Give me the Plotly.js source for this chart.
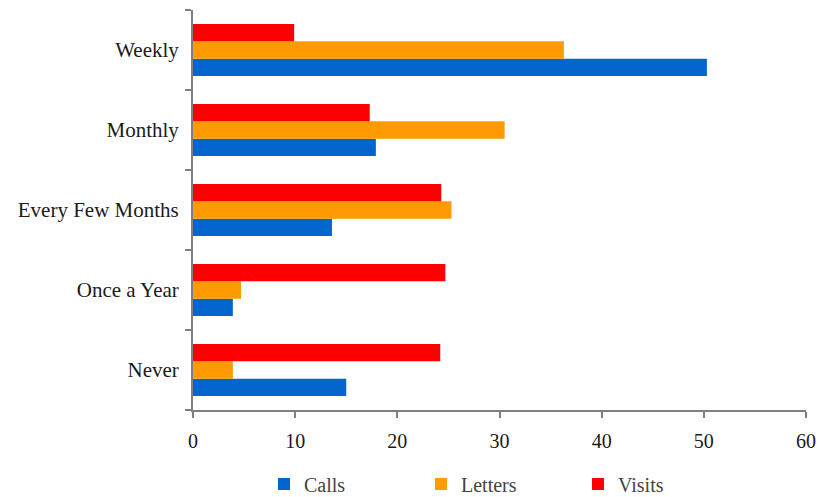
<!DOCTYPE html>
<html>
<head>
<meta charset="utf-8">
<script src="https://cdn.plot.ly/plotly-3.0.1.min.js"></script>
<style>html,body{margin:0;padding:0;background:#fff;}#chart{width:820px;height:497px;}</style>
</head>
<body>
<div id="chart"></div>
<script>
// categories listed bottom-to-top
const categories = ["Never", "Once a Year", "Every Few Months", "Monthly", "Weekly"];
const calls   = [15.0, 3.9, 13.6, 17.9, 50.3];
const letters = [3.9, 4.7, 25.3, 30.5, 36.3];
const visits  = [24.2, 24.7, 24.3, 17.3, 9.9];
const xTicks = [0, 10, 20, 30, 40, 50, 60];

const FONT = "Liberation Serif";

const traces = [
  {name: "Calls", x: calls, y: categories, type: "bar", orientation: "h", marker: {color: "#0366CE"}},
  {name: "Letters", x: letters, y: categories, type: "bar", orientation: "h", marker: {color: "#FF9A00"}},
  {name: "Visits", x: visits, y: categories, type: "bar", orientation: "h", marker: {color: "#FF0000"}}
];

const layout = {
  width: 820, height: 497,
  margin: {l: 193, r: 14, t: 10, b: 87, autoexpand: false},
  font: {family: FONT, size: 20},
  barmode: "group",
  bargap: 0.35,
  bargroupgap: 0,
  showlegend: true,
  legend: {orientation: "h", x: 0.5, xanchor: "center",
           y: -0.185, yanchor: "middle",
           font: {family: FONT, size: 20},
           entrywidth: 112, entrywidthmode: "pixels"},
  xaxis: {
    range: [0, 60], tickvals: xTicks, ticktext: xTicks.map(String),
    showgrid: false, zeroline: false, showline: true, linecolor: "#808080", linewidth: 2,
    ticks: "outside", ticklen: 6, tickwidth: 2, tickcolor: "#808080",
    ticklabelstandoff: 6, fixedrange: true, automargin: false,
    tickfont: {family: FONT, size: 20, color: "#1a1a1a"}
  },
  yaxis: {
    type: "category", categoryorder: "array", categoryarray: categories,
    showgrid: false, zeroline: false, showline: true, linecolor: "#808080", linewidth: 2,
    ticks: "outside", tickson: "boundaries", ticklen: 6, tickwidth: 2, tickcolor: "#808080",
    ticklabelstandoff: 8, fixedrange: true, automargin: false,
    tickfont: {family: FONT, size: 21, color: "#1a1a1a"}
  }
};

Plotly.newPlot("chart", traces, layout, {displayModeBar: false, staticPlot: true});
</script>
</body>
</html>
